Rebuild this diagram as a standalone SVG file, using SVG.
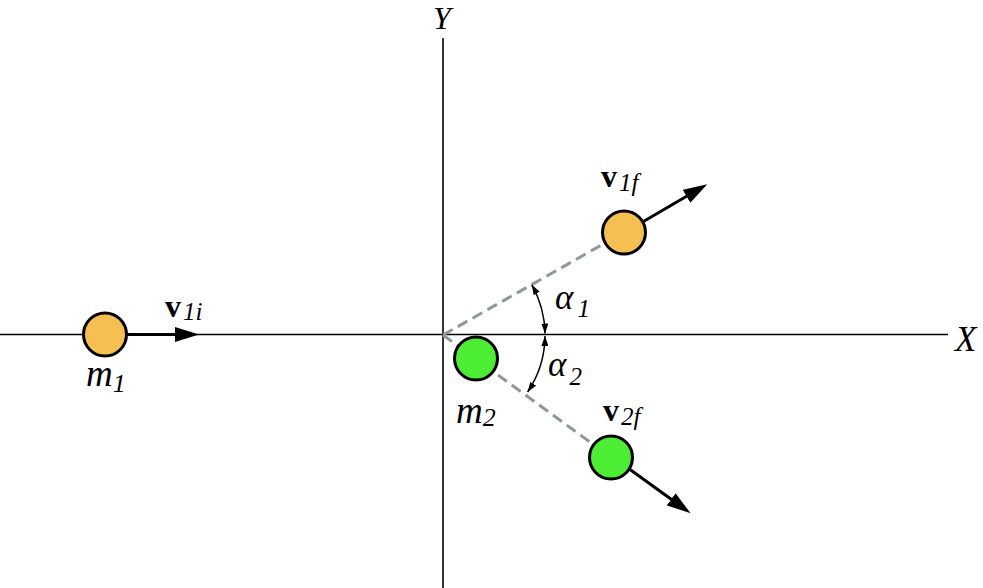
<svg xmlns="http://www.w3.org/2000/svg" width="983" height="588" viewBox="0 0 983 588">
<style>
.axis{stroke:#000;stroke-width:1.6;fill:none}
.vec{stroke:#000;stroke-width:3;fill:none}
.dash{stroke:#8f9898;stroke-width:3;stroke-dasharray:11 6;fill:none}
.arc{stroke:#000;stroke-width:1.5;fill:none}
.ball{stroke:#000;stroke-width:3}
.b1{fill:#f5bf52}
.b2{fill:#4ced33}
text{font-family:"Liberation Serif","Times New Roman",serif;fill:#000}
.it{font-style:italic}
.bf{font-weight:bold}
</style>
<defs>
<marker id="ah" markerUnits="userSpaceOnUse" markerWidth="24" markerHeight="15" refX="12" refY="7.5" orient="auto" viewBox="0 0 24 15">
<path d="M0,0 L24,7.5 L0,15 z" fill="#000"/>
</marker>
<marker id="sa" markerUnits="userSpaceOnUse" markerWidth="10" markerHeight="7" refX="10" refY="3.5" orient="auto-start-reverse" viewBox="0 0 10 7">
<path d="M0,0 L10,3.5 L0,7 z" fill="#000"/>
</marker>
</defs>
<g id="connectors">
<line id="x-axis" class="axis" x1="0" y1="334.5" x2="948" y2="334.5"/>
<line id="y-axis" class="axis" x1="443" y1="38" x2="443" y2="588"/>
<line class="dash" x1="443" y1="335" x2="605" y2="243"/>
<line class="dash" x1="443" y1="335" x2="594" y2="445"/>
<line id="v1i" class="vec" x1="127" y1="334.5" x2="187" y2="334.5" marker-end="url(#ah)"/>
<line id="v1f" class="vec" x1="643" y1="221.7" x2="696.9" y2="190.3" marker-end="url(#ah)"/>
<line id="v2f" class="vec" x1="630" y1="469.5" x2="680.9" y2="506.3" marker-end="url(#ah)"/>
<path id="arc1" class="arc" d="M531.8,284.8 A102,102 0 0 1 545,333.5" marker-start="url(#sa)" marker-end="url(#sa)"/>
<path id="arc2" class="arc" d="M545,336 A102,102 0 0 1 527.6,392" marker-start="url(#sa)" marker-end="url(#sa)"/>
</g>
<g id="m1"><circle class="ball b1" cx="105" cy="334.5" r="21.5"/></g>
<g id="m1f"><circle class="ball b1" cx="624" cy="232.5" r="21.5"/></g>
<g id="m2"><circle class="ball b2" cx="476" cy="358.5" r="21.5"/></g>
<g id="m2f"><circle class="ball b2" cx="611" cy="457.5" r="21.5"/></g>
<g id="labels">
<text class="it" x="433" y="29" font-size="32">Y</text>
<text class="it" x="955" y="351" font-size="35">X</text>
<text class="it" x="86" y="386" font-size="37">m<tspan font-size="26" dy="6">1</tspan></text>
<text class="it" x="456" y="423" font-size="37">m<tspan font-size="26" dy="3">2</tspan></text>
<text x="165" y="317" font-size="32"><tspan class="bf">v</tspan><tspan class="it" font-size="25" dy="3" dx="2">1i</tspan></text>
<text x="601" y="187" font-size="32"><tspan class="bf">v</tspan><tspan class="it" font-size="25" dy="4" dx="2">1f</tspan></text>
<text x="603" y="420.5" font-size="32"><tspan class="bf">v</tspan><tspan class="it" font-size="25" dy="4" dx="2">2f</tspan></text>
<text class="it" x="555" y="309" font-size="35">α<tspan font-size="25" dy="8" dx="4">1</tspan></text>
<text class="it" x="548" y="376" font-size="35">α<tspan font-size="25" dy="9" dx="3">2</tspan></text>
</g>
</svg>
